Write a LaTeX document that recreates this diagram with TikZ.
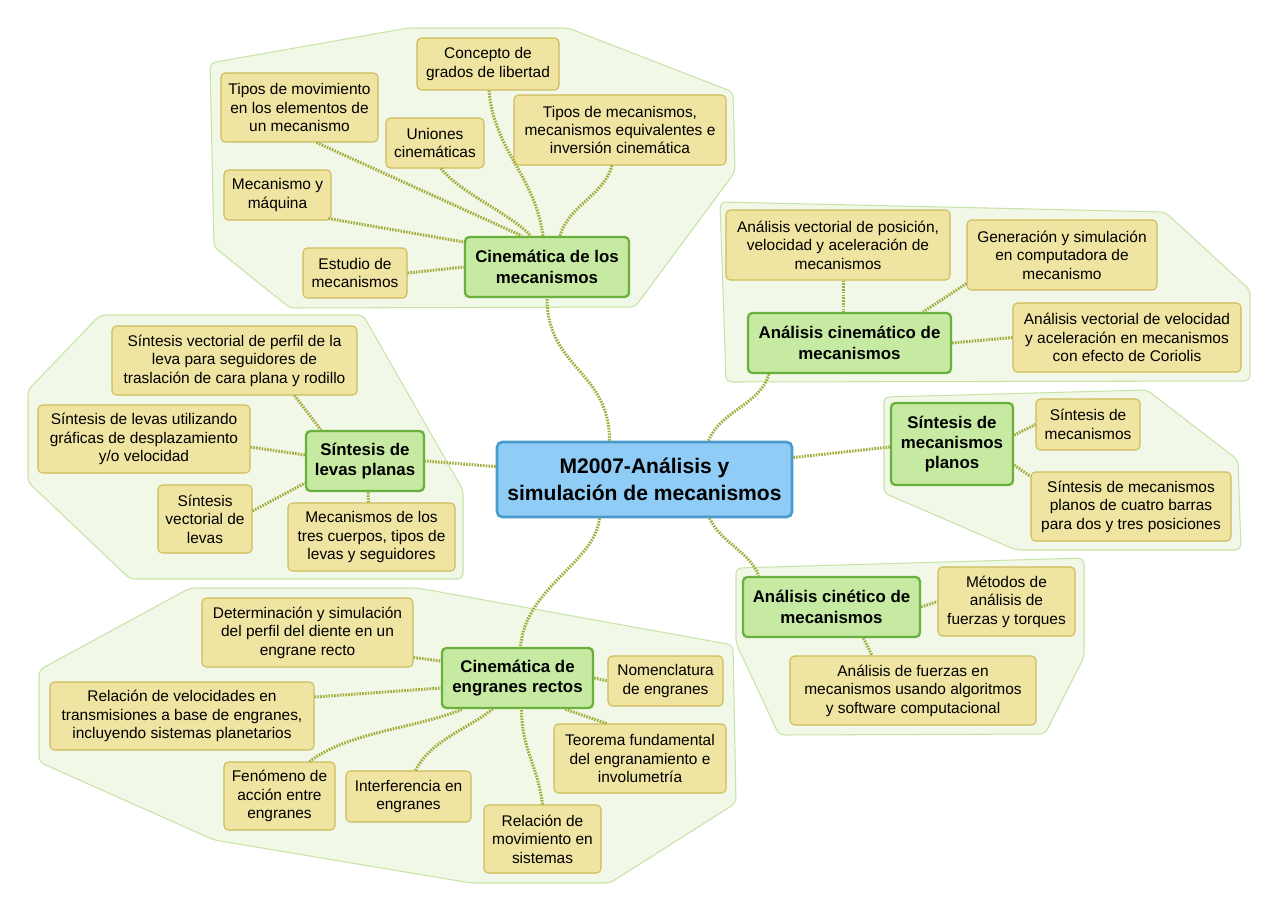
\documentclass[tikz,border=0pt]{standalone}
\usepackage{fontspec}
\setmainfont{Liberation Sans}
\usetikzlibrary{calc}

\definecolor{fondogrupo}{HTML}{F1F8E7}
\definecolor{bordegrupo}{HTML}{C8E3A8}
\definecolor{hoja}{HTML}{F0E4A2}
\definecolor{bordehoja}{HTML}{CDBB5C}
\definecolor{rama}{HTML}{C6EAA2}
\definecolor{borderama}{HTML}{6AB03C}
\definecolor{central}{HTML}{90CDF6}
\definecolor{bordecentral}{HTML}{4A9BCB}
\definecolor{colenlace}{HTML}{A3AC3A}

\tikzset{
    tam/.style 2 args={minimum width=#1*0.02cm, minimum height=#2*0.02cm},
    hojabox/.style={draw=bordehoja, fill=hoja, line width=0.6pt, rounded corners=2.5pt,
        align=center, inner sep=1pt, font=\fontsize{8.8}{10.5}\selectfont},
    ramabox/.style={draw=borderama, fill=rama, line width=1.3pt, rounded corners=2.5pt,
        align=center, inner sep=1pt, font=\bfseries\fontsize{9.6}{11.6}\selectfont},
    centralbox/.style={draw=bordecentral, fill=central, line width=1.5pt, rounded corners=3pt,
        align=center, inner sep=1pt, font=\bfseries\fontsize{12}{15}\selectfont},
    grupo/.style={draw=bordegrupo, fill=fondogrupo, line width=0.6pt, rounded corners=3pt},
    enlace/.style={draw=colenlace, line width=1.7pt, dash pattern=on 0.9pt off 0.7pt}
}

\begin{document}
\begin{tikzpicture}[x=0.02cm, y=-0.02cm]
    \fill[white] (0,0) rectangle (1280,913);
    \useasboundingbox (0,0) rectangle (1280,913);

    % Zones de cada rama
    \draw[grupo] (210,63) -- (408,28) -- (568,28) -- (733,92) -- (735,172) -- (635,307)
                 -- (290,308) -- (214,247) -- cycle;
    \draw[grupo] (720,202) -- (1165,212) -- (1250,290) -- (1250,381) -- (726,382) -- cycle;
    \draw[grupo] (100,315) -- (363,315) -- (463,490) -- (463,579) -- (130,579)
                 -- (28,482) -- (28,390) -- cycle;
    \draw[grupo] (884,397) -- (1147,390) -- (1238,460) -- (1241,550) -- (1016,550)
                 -- (884,493) -- cycle;
    \draw[grupo] (736,568) -- (1084,558) -- (1084,657) -- (1045,734) -- (779,735)
                 -- (736,643) -- cycle;
    \draw[grupo] (190,588) -- (418,588) -- (733,645) -- (736,803) -- (610,883)
                 -- (471,883) -- (214,840) -- (39,762) -- (39,670) -- cycle;

    % Tema central i branques
    \node[centralbox, tam={295}{75}] (cen) at (644.5,479.5) {M2007-Análisis y\\simulación de mecanismos};
    \node[ramabox, tam={164}{60}] (cin) at (547,267) {Cinemática de los\\mecanismos};
    \node[ramabox, tam={203}{60}] (acm) at (849.5,343) {Análisis cinemático de\\mecanismos};
    \node[ramabox, tam={118}{60}] (lev) at (365,461) {Síntesis de\\levas planas};
    \node[ramabox, tam={122}{82}] (smp) at (952,444) {Síntesis de\\mecanismos\\planos};
    \node[ramabox, tam={177}{60}] (acn) at (831.5,607) {Análisis cinético de\\mecanismos};
    \node[ramabox, tam={151}{60}] (eng) at (517.5,678) {Cinemática de\\engranes rectos};

    % Fulles
    \node[hojabox, tam={142}{52}] (concepto) at (488,64) {Concepto de\\grados de libertad};
    \node[hojabox, tam={157}{69}] (movimiento) at (299.5,107.5) {Tipos de movimiento\\en los elementos de\\un mecanismo};
    \node[hojabox, tam={98}{50}] (uniones) at (435,143) {Uniones\\cinemáticas};
    \node[hojabox, tam={212}{70}] (tiposmec) at (620,130) {Tipos de mecanismos,\\mecanismos equivalentes e\\inversión cinemática};
    \node[hojabox, tam={107}{50}] (maquina) at (277.5,195) {Mecanismo y\\máquina};
    \node[hojabox, tam={104}{50}] (estudio) at (355,273) {Estudio de\\mecanismos};

    \node[hojabox, tam={224}{70}] (vpos) at (838,245) {Análisis vectorial de posición,\\velocidad y aceleración de\\mecanismos};
    \node[hojabox, tam={190}{70}] (gensim) at (1062,255) {Generación y simulación\\en computadora de\\mecanismo};
    \node[hojabox, tam={228}{69}] (coriolis) at (1127,337.5) {Análisis vectorial de velocidad\\y aceleración en mecanismos\\con efecto de Coriolis};

    \node[hojabox, tam={245}{69}] (perfil) at (234.5,360.5) {Síntesis vectorial de perfil de la\\leva para seguidores de\\traslación de cara plana y rodillo};
    \node[hojabox, tam={212}{68}] (graficas) at (144,439) {Síntesis de levas utilizando\\gráficas de desplazamiento\\y/o velocidad};
    \node[hojabox, tam={94}{68}] (vectlevas) at (205,519) {Síntesis\\vectorial de\\levas};
    \node[hojabox, tam={167}{68}] (trescuerpos) at (371.5,537) {Mecanismos de los\\tres cuerpos, tipos de\\levas y seguidores};

    \node[hojabox, tam={104}{51}] (sintmec) at (1088,424.5) {Síntesis de\\mecanismos};
    \node[hojabox, tam={200}{69}] (cuatrobarras) at (1131,506.5) {Síntesis de mecanismos\\planos de cuatro barras\\para dos y tres posiciones};

    \node[hojabox, tam={137}{69}] (metodos) at (1006.5,601.5) {Métodos de\\análisis de\\fuerzas y torques};
    \node[hojabox, tam={246}{69}] (fuerzas) at (913,690.5) {Análisis de fuerzas en\\mecanismos usando algoritmos\\y software computacional};

    \node[hojabox, tam={211}{69}] (perfildiente) at (307.5,632.5) {Determinación y simulación\\del perfil del diente en un\\engrane recto};
    \node[hojabox, tam={264}{68}] (relvel) at (182,716) {Relación de velocidades en\\transmisiones a base de engranes,\\incluyendo sistemas planetarios};
    \node[hojabox, tam={115}{50}] (nomen) at (665.5,681) {Nomenclatura\\de engranes};
    \node[hojabox, tam={172}{69}] (teorema) at (640,758.5) {Teorema fundamental\\del engranamiento e\\involumetría};
    \node[hojabox, tam={111}{68}] (fenomeno) at (279.5,796) {Fenómeno de\\acción entre\\engranes};
    \node[hojabox, tam={125}{51}] (interf) at (408.5,796.5) {Interferencia en\\engranes};
    \node[hojabox, tam={117}{68}] (relmov) at (542.5,839) {Relación de\\movimiento en\\sistemas};

    % Enllaços del centre
    \draw[enlace] ($(cen.north)+(-35,0)$) .. controls +(0,-70) and +(0,70) .. (cin.south);
    \draw[enlace] ($(cen.north)+(64,0)$) .. controls +(12,-30) and +(-8,30) .. ($(acm.south west)+(22,0)$);
    \draw[enlace] ($(cen.west)+(0,-13)$) -- (lev.east);
    \draw[enlace] ($(cen.east)+(0,-22)$) -- ($(smp.west)+(0,3)$);
    \draw[enlace] ($(cen.south)+(65,0)$) .. controls +(12,25) and +(-10,-25) .. ($(acn.north west)+(17,0)$);
    \draw[enlace] ($(cen.south)+(-45,0)$) .. controls +(-5,45) and +(5,-60) .. ($(eng.north)+(3,0)$);

    % Enllaços de les fulles
    \draw[enlace] ($(movimiento.south)+(17,0)$) -- ($(cin.north west)+(58,0)$);
    \draw[enlace] ($(uniones.south)+(6,0)$) .. controls +(20,25) and +(-25,-25) .. ($(cin.north)+(-16,0)$);
    \draw[enlace] ($(concepto.south)+(1,0)$) .. controls +(5,60) and +(-8,-60) .. ($(cin.north)+(-4,0)$);
    \draw[enlace] ($(tiposmec.south)+(-8,0)$) .. controls +(-8,30) and +(8,-30) .. ($(cin.north)+(13,0)$);
    \draw[enlace] ($(maquina.south east)+(-3,-2)$) -- ($(cin.west)+(0,-25)$);
    \draw[enlace] (estudio.east) -- (cin.west);

    \draw[enlace] ($(vpos.south)+(5,0)$) -- ($(acm.north)+(-6.5,0)$);
    \draw[enlace] ($(gensim.south west)+(0,-7)$) -- ($(acm.north east)+(-29,0)$);
    \draw[enlace] (acm.east) -- (coriolis.west);

    \draw[enlace] ($(perfil.south)+(60,0)$) -- ($(lev.north west)+(16,0)$);
    \draw[enlace] ($(graficas.east)+(0,8)$) -- ($(lev.west)+(0,-6)$);
    \draw[enlace] ($(vectlevas.east)+(0,-8)$) -- ($(lev.south west)+(0,-9)$);
    \draw[enlace] ($(trescuerpos.north)+(-3,0)$) -- ($(lev.south)+(3,0)$);

    \draw[enlace] ($(smp.east)+(0,-9)$) -- (sintmec.west);
    \draw[enlace] ($(smp.east)+(0,21)$) -- ($(cuatrobarras.west)+(0,-30)$);

    \draw[enlace] (acn.east) -- (metodos.west);
    \draw[enlace] ($(acn.south)+(32,0)$) -- ($(fuerzas.north)+(-41,0)$);

    \draw[enlace] ($(perfildiente.east)+(0,25)$) -- ($(eng.west)+(0,-17)$);
    \draw[enlace] ($(relvel.east)+(0,-19)$) -- ($(eng.west)+(0,10)$);
    \draw[enlace] (eng.east) -- (nomen.west);
    \draw[enlace] ($(eng.south east)+(-29,0)$) -- ($(teorema.north west)+(53,0)$);
    \draw[enlace] ($(fenomeno.north)+(30,0)$) .. controls +(40,-30) and +(-50,20) .. ($(eng.south west)+(22,0)$);
    \draw[enlace] ($(interf.north)+(7,0)$) .. controls +(15,-30) and +(-25,20) .. ($(eng.south)+(-25,0)$);
    \draw[enlace] (relmov.north) .. controls +(-5,-40) and +(0,40) .. ($(eng.south)+(4,0)$);
\end{tikzpicture}
\end{document}
